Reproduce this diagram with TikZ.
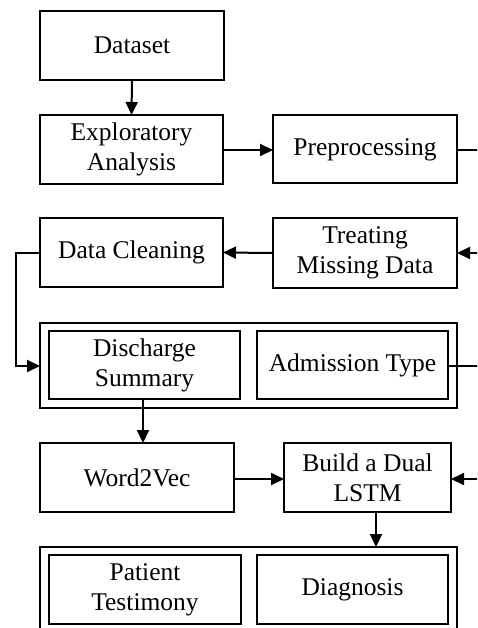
\documentclass[tikz,border=0pt]{standalone}
\usepackage{fontspec}
\setmainfont{Liberation Serif}
\usetikzlibrary{arrows.meta}
\begin{document}
\begin{tikzpicture}[x=1pt,y=-1pt,
  every node/.style={font=\fontsize{25.5}{30}\selectfont},
  blk/.style={draw,line width=2pt,inner sep=0pt,outer sep=0pt,align=center},
  grp/.style={draw,line width=2pt,inner sep=0pt,outer sep=0pt},
  con/.style={line width=2pt},
  arr/.style={line width=2pt,-{Triangle[length=13pt,width=12pt]}}]
\useasboundingbox (0,0) rectangle (477,628);
\clip (0,0) rectangle (477,628);
% nodes
\node[blk,minimum width=184pt,minimum height=69pt] (ds) at (132,45.5) {Dataset};
\node[blk,minimum width=183pt,minimum height=69pt] (ea) at (131.5,149.5) {Exploratory\\Analysis};
\node[blk,minimum width=184pt,minimum height=68pt] (pp) at (365,149.5) {Preprocessing};
\node[blk,minimum width=184pt,minimum height=70pt] (tm) at (365,253) {Treating\\Missing Data};
\node[blk,minimum width=183pt,minimum height=69pt] (dc) at (131.5,252.5) {Data Cleaning};
\node[grp,minimum width=417pt,minimum height=85pt] (g1) at (248.5,365.5) {};
\node[blk,minimum width=191pt,minimum height=68pt] (dsum) at (144.5,365) {Discharge\\Summary};
\node[blk,minimum width=191pt,minimum height=68pt] (adm) at (352.5,365) {Admission Type};
\node[blk,minimum width=194pt,minimum height=69pt] (w2v) at (137,477.5) {Word2Vec};
\node[blk,minimum width=167pt,minimum height=69pt] (lstm) at (367.5,477.5) {Build a Dual\\LSTM};
\node[grp,minimum width=417pt,minimum height=90pt] (g2) at (248.5,592) {};
\node[blk,minimum width=192pt,minimum height=69pt] (pt) at (145,589.5) {Patient\\Testimony};
\node[blk,minimum width=191pt,minimum height=69pt] (dg) at (352.5,589.5) {Diagnosis};
% free ends
\coordinate (e1) at (482,150);
\coordinate (e2) at (482,253);
\coordinate (e3) at (482,366);
\coordinate (e4) at (482,479);
\coordinate (lx) at (16,0);
\coordinate (ax) at (143,0);
\coordinate (bx) at (376,0);
% connectors
\draw[arr] (ds.south) -- (ea.north);
\draw[arr] (ea.east |- e1) -- (pp.west |- e1);
\draw[con] (pp.east |- e1) -- (e1);
\draw[arr] (e2) -- (tm.east);
\draw[arr] (tm.west) -- (dc.west -| dc.east);
\draw[arr] (dc.west) -- (lx |- dc.west) -- (lx |- e3) -- (g1.west |- e3);
\draw[con] (adm.east |- e3) -- (e3);
\draw[arr] (ax |- dsum.south) -- (ax |- w2v.north);
\draw[arr] (w2v.east |- e4) -- (lstm.west |- e4);
\draw[arr] (e4) -- (lstm.east |- e4);
\draw[arr] (bx |- lstm.south) -- (bx |- g2.north);
\end{tikzpicture}
\end{document}
